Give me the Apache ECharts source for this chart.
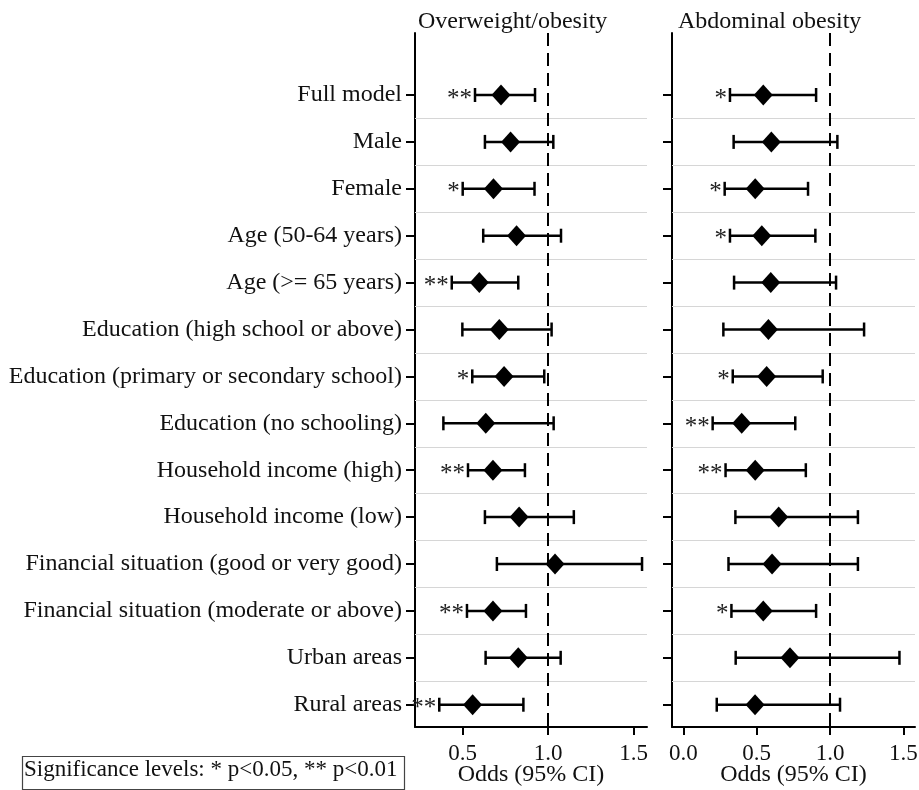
<!DOCTYPE html>
<html>
<head>
<meta charset="utf-8">
<script src="https://cdn.jsdelivr.net/npm/echarts@6.0.0/dist/echarts.min.js"></script>
<style>
  html, body { margin: 0; padding: 0; background: #fff; }
  #chart { width: 919px; height: 790px; }
</style>
</head>
<body>
<div id="chart"></div>
<script>
// row labels, top to bottom
const categories = [
    'Full model',
    'Male',
    'Female',
    'Age (50-64 years)',
    'Age (>= 65 years)',
    'Education (high school or above)',
    'Education (primary or secondary school)',
    'Education (no schooling)',
    'Household income (high)',
    'Household income (low)',
    'Financial situation (good or very good)',
    'Financial situation (moderate or above)',
    'Urban areas',
    'Rural areas'
];

// Overweight/obesity
const owOdds = [0.724, 0.78, 0.68, 0.815, 0.597, 0.714, 0.742, 0.635, 0.677, 0.83, 1.04, 0.677, 0.825, 0.558];
const owLow  = [0.572, 0.63, 0.50, 0.62, 0.436, 0.498, 0.556, 0.387, 0.531, 0.63, 0.70, 0.525, 0.634, 0.363];
const owHigh = [0.923, 1.03, 0.92, 1.075, 0.825, 1.020, 0.977, 1.032, 0.864, 1.15, 1.549, 0.870, 1.073, 0.855];
const owSig  = ['**', '', '*', '', '**', '', '*', '', '**', '', '', '**', '', '**'];

// Abdominal obesity
const aoOdds = [0.545, 0.60, 0.49, 0.535, 0.596, 0.580, 0.568, 0.398, 0.49, 0.65, 0.605, 0.545, 0.727, 0.489];
const aoLow  = [0.318, 0.343, 0.282, 0.318, 0.346, 0.273, 0.337, 0.200, 0.288, 0.355, 0.308, 0.328, 0.357, 0.228];
const aoHigh = [0.905, 1.05, 0.85, 0.90, 1.041, 1.232, 0.950, 0.763, 0.835, 1.19, 1.19, 0.905, 1.473, 1.068];
const aoSig  = ['*', '', '*', '*', '', '', '*', '**', '**', '', '', '*', '', ''];

const owTicks = [0.5, 1.0, 1.5];
const aoTicks = [0.0, 0.5, 1.0, 1.5];

const FONT = 'Liberation Serif, Times New Roman, serif';
const rowIdx = categories.map((c, i) => i);
const separators = categories.slice(1).map((c, i) => ({ yAxis: i + 0.5 }));

const myChart = echarts.init(document.getElementById('chart'));

function errorBar(params, api) {
    const y = api.value(0);
    const lo = api.coord([api.value(1), y]);
    const hi = api.coord([api.value(2), y]);
    const cap = 7;
    const style = { stroke: '#000', lineWidth: 2.5 };
    return {
        type: 'group',
        children: [
            { type: 'line', shape: { x1: lo[0], y1: lo[1], x2: hi[0], y2: hi[1] }, style: style },
            { type: 'line', shape: { x1: lo[0], y1: lo[1] - cap, x2: lo[0], y2: lo[1] + cap }, style: style },
            { type: 'line', shape: { x1: hi[0], y1: hi[1] - cap, x2: hi[0], y2: hi[1] + cap }, style: style }
        ]
    };
}

function xAxis(gi, min, max, ticks) {
    return {
        type: 'value', gridIndex: gi, min: min, max: max,
        name: 'Odds (95% CI)', nameLocation: 'middle', nameGap: 36, nameMoveOverlap: false,
        nameTextStyle: { fontFamily: FONT, fontSize: 24, color: '#111' },
        axisLine: { onZero: false, lineStyle: { color: '#000', width: 2 } },
        axisTick: { customValues: ticks, length: 8, lineStyle: { color: '#000', width: 2 } },
        axisLabel: {
            customValues: ticks, margin: 15,
            formatter: v => Number(v).toFixed(1),
            fontFamily: FONT, fontSize: 23, color: '#111'
        },
        splitLine: { show: false }
    };
}

function yAxis(gi, showLabels) {
    return {
        type: 'value', gridIndex: gi, inverse: true, min: -1.322, max: 13.475,
        axisLine: { show: true, onZero: false, lineStyle: { color: '#000', width: 2 } },
        axisTick: { show: true, customValues: rowIdx, length: 9, lineStyle: { color: '#000', width: 2 } },
        axisLabel: {
            show: showLabels, customValues: rowIdx, margin: 13,
            formatter: v => categories[Math.round(v)] || '',
            fontFamily: FONT, fontSize: 24, color: '#111'
        },
        splitLine: { show: false }
    };
}

function panelSeries(gi, odds, low, high, sig) {
    const stars = [];
    sig.forEach((s, i) => { if (s) stars.push([low[i], i, s]); });
    return [
        {
            // row separators + reference line at 1
            type: 'scatter', xAxisIndex: gi, yAxisIndex: gi, data: [], z: 1, silent: true,
            markLine: {
                silent: true, symbol: 'none', label: { show: false }, animation: false,
                data: separators.map(d => Object.assign({ lineStyle: { color: '#d6d6d6', width: 1, type: 'solid' } }, d))
                    .concat([{ xAxis: 1, lineStyle: { color: '#000', width: 2, type: [13, 7] } }])
            }
        },
        {
            type: 'custom', xAxisIndex: gi, yAxisIndex: gi, z: 3,
            renderItem: errorBar,
            encode: { x: [1, 2], y: 0 },
            data: categories.map((c, i) => [i, low[i], high[i]])
        },
        {
            type: 'scatter', xAxisIndex: gi, yAxisIndex: gi, z: 4,
            symbol: 'diamond', symbolSize: [19, 21],
            itemStyle: { color: '#000', opacity: 1 },
            data: categories.map((c, i) => [odds[i], i])
        },
        {
            type: 'scatter', xAxisIndex: gi, yAxisIndex: gi, z: 4,
            symbolSize: 0, itemStyle: { color: 'rgba(0,0,0,0)' },
            label: {
                show: true, position: 'left', distance: 3, offset: [0, 4],
                formatter: p => p.value[2],
                fontFamily: FONT, fontSize: 25, color: '#222', opacity: 1
            },
            data: stars
        }
    ];
}

const option = {
    animation: false,
    backgroundColor: '#fff',
    grid: [
        { left: 415, top: 33, width: 232, bottom: 63, outerBoundsMode: 'none' },
        { left: 672, top: 33, width: 243, bottom: 63, outerBoundsMode: 'none' }
    ],
    xAxis: [
        xAxis(0, 0.221, 1.578, owTicks),
        xAxis(1, -0.077, 1.579, aoTicks)
    ],
    yAxis: [yAxis(0, true), yAxis(1, false)],
    series: panelSeries(0, owOdds, owLow, owHigh, owSig)
        .concat(panelSeries(1, aoOdds, aoLow, aoHigh, aoSig)),
    graphic: [
        { type: 'text', left: 418, top: 10, style: { text: 'Overweight/obesity', font: '24px ' + FONT, fill: '#111' } },
        { type: 'text', left: 678, top: 10, style: { text: 'Abdominal obesity', font: '24px ' + FONT, fill: '#111' } },
        {
            type: 'rect', left: 20, top: 754,
            shape: { width: 382, height: 33 },
            style: { fill: 'none', stroke: '#444', lineWidth: 1.2 }
        },
        { type: 'text', left: 24, top: 758, style: { text: 'Significance levels: * p<0.05, ** p<0.01', font: '23px ' + FONT, fill: '#111' } }
    ]
};

myChart.setOption(option);
</script>
</body>
</html>
